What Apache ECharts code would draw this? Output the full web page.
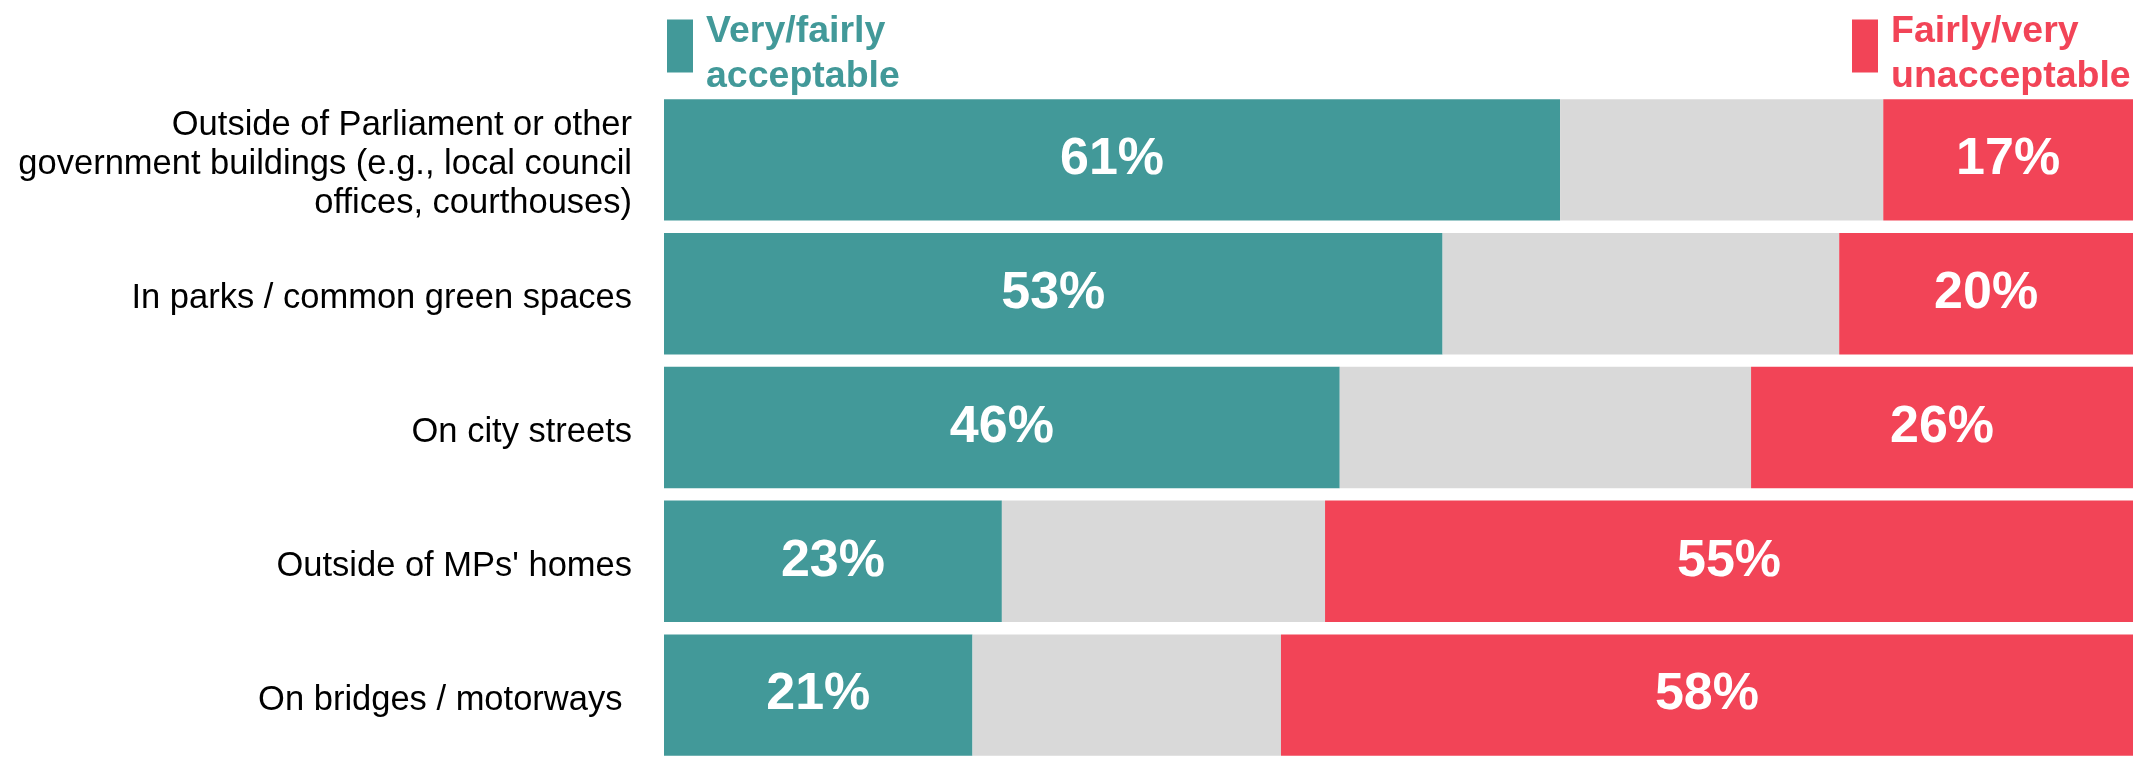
<!DOCTYPE html>
<html>
<head>
<meta charset="utf-8">
<script src="https://cdn.jsdelivr.net/npm/echarts@6/dist/echarts.min.js"></script>
<style>
html,body{margin:0;padding:0;background:#fff;}
#chart{width:2133px;height:762px;}
</style>
</head>
<body>
<div id="chart"></div>
<script>
const categories = [
  "Outside of Parliament or other\ngovernment buildings (e.g., local council\noffices, courthouses)",
  "In parks / common green spaces",
  "On city streets",
  "Outside of MPs' homes",
  "On bridges / motorways "
];
const acceptable = [61, 53, 46, 23, 21];
const neither = [22, 27, 28, 22, 21];
const unacceptable = [17, 20, 26, 55, 58];
const seriesNames = ["Very/fairly\nacceptable", "Neither", "Fairly/very\nunacceptable"];

const TEAL = "#429999";
const GREY = "#D9D9D9";
const RED = "#F24457";
const FONT = "'Liberation Sans', Arial, sans-serif";

const chart = echarts.init(document.getElementById('chart'));

const richWrap = (key) => (s) => s.split('\n').map(l => '{' + key + '|' + l + '}').join('\n');

const dataLabel = {
  show: true,
  position: 'inside',
  formatter: '{c}%',
  color: '#ffffff',
  fontSize: 52,
  fontWeight: 'bold',
  fontFamily: FONT
};

const legendText = (color) => ({
  color: color, fontSize: 37.5, fontWeight: 'bold', lineHeight: 45, fontFamily: FONT,
  rich: {
    t: { color: color, fontSize: 37.5, fontWeight: 'bold', lineHeight: 45, fontFamily: FONT,
         padding: [16, 0, 0, 8] }
  }
});

chart.setOption({
  animation: false,
  backgroundColor: '#ffffff',
  grid: { left: 664, right: 0, top: 93, height: 677, containLabel: false },
  legend: [
    {
      data: [seriesNames[0]],
      left: 667, top: -3.5, padding: 0,
      icon: 'rect', itemWidth: 26, itemHeight: 53,
      selectedMode: false,
      formatter: richWrap('t'),
      textStyle: legendText(TEAL)
    },
    {
      data: [seriesNames[2]],
      left: 1852, top: -3.5, padding: 0,
      icon: 'rect', itemWidth: 26, itemHeight: 53,
      selectedMode: false,
      formatter: richWrap('t'),
      textStyle: legendText(RED)
    }
  ],
  xAxis: {
    type: 'value', min: 0, max: 100, show: false
  },
  yAxis: {
    type: 'category',
    inverse: true,
    data: categories,
    axisLine: { show: false },
    axisTick: { show: false },
    axisLabel: {
      margin: 32,
      color: '#000000',
      fontSize: 34.5,
      lineHeight: 39,
      fontFamily: FONT,
      align: 'right',
      formatter: richWrap('l'),
      rich: {
        l: { color: '#000000', fontSize: 34.5, lineHeight: 39, fontFamily: FONT,
             align: 'right', padding: [10, 0, 0, 0] }
      }
    }
  },
  series: [
    {
      name: seriesNames[0], type: 'bar', stack: 'total',
      data: acceptable, barCategoryGap: '9.3%',
      itemStyle: { color: TEAL },
      label: dataLabel
    },
    {
      name: seriesNames[1], type: 'bar', stack: 'total',
      data: neither, barCategoryGap: '9.3%',
      itemStyle: { color: GREY },
      label: { show: false }
    },
    {
      name: seriesNames[2], type: 'bar', stack: 'total',
      data: unacceptable, barCategoryGap: '9.3%',
      itemStyle: { color: RED },
      label: dataLabel
    }
  ]
});
</script>
</body>
</html>
